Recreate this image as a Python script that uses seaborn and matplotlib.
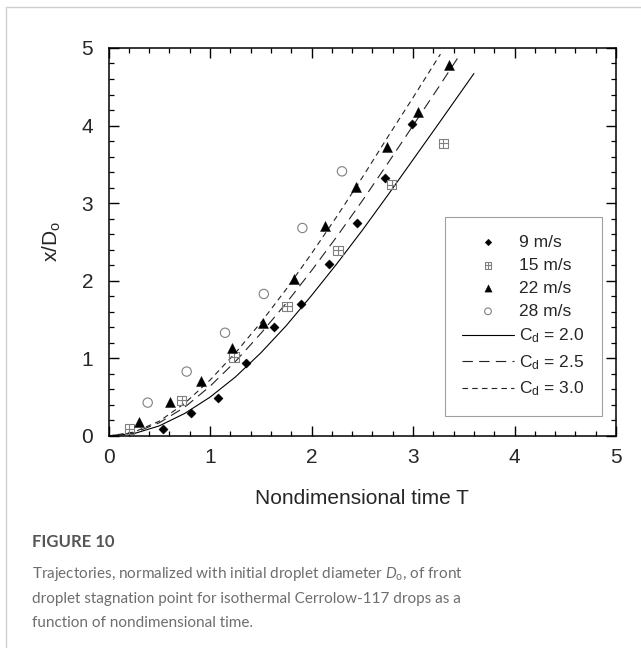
import matplotlib
matplotlib.use('Agg')
import matplotlib.pyplot as plt
import seaborn as sns
from matplotlib.path import Path
from matplotlib.ticker import MultipleLocator

# Measured front stagnation point x/Do vs nondimensional time T
t_9 = [0.54, 0.81, 1.08, 1.355, 1.63, 1.90, 2.17, 2.445, 2.72, 2.99]
x_9 = [0.09, 0.29, 0.49, 0.94, 1.40, 1.70, 2.21, 2.75, 3.32, 4.02]

t_15 = [0.205, 0.72, 1.236, 1.76, 2.26, 2.79, 3.30]
x_15 = [0.09, 0.46, 1.02, 1.67, 2.39, 3.24, 3.77]

t_22 = [0.30, 0.606, 0.91, 1.22, 1.52, 1.83, 2.13, 2.435, 2.74, 3.05, 3.35]
x_22 = [0.18, 0.44, 0.71, 1.14, 1.46, 2.02, 2.70, 3.21, 3.73, 4.18, 4.78]

t_28 = [0.386, 0.77, 1.148, 1.53, 1.91, 2.30]
x_28 = [0.43, 0.83, 1.33, 1.83, 2.68, 3.41]

# Model trajectories for three drag coefficients
t_cd20 = [0, 0.25, 0.5, 0.75, 1.0, 1.25, 1.5, 1.75, 2.0, 2.25, 2.5, 2.75, 3.0, 3.25, 3.6]
x_cd20 = [0, 0.03, 0.13, 0.29, 0.50, 0.76, 1.07, 1.42, 1.81, 2.22, 2.65, 3.10, 3.56, 4.02, 4.67]

t_cd25 = [0, 0.25, 0.5, 0.75, 1.0, 1.25, 1.5, 1.75, 2.0, 2.25, 2.5, 2.75, 3.0, 3.25, 3.46]
x_cd25 = [0, 0.04, 0.17, 0.37, 0.64, 0.96, 1.32, 1.71, 2.13, 2.57, 3.03, 3.51, 4.00, 4.49, 4.91]

t_cd30 = [0, 0.25, 0.5, 0.75, 1.0, 1.25, 1.5, 1.75, 2.0, 2.25, 2.5, 2.75, 3.0, 3.27]
x_cd30 = [0, 0.05, 0.19, 0.42, 0.72, 1.07, 1.46, 1.89, 2.35, 2.83, 3.33, 3.85, 4.36, 4.92]

sns.set_style('ticks')
plt.rcParams['font.family'] = ['Liberation Sans', 'DejaVu Sans']
plt.rcParams['mathtext.fontset'] = 'custom'
plt.rcParams['mathtext.rm'] = 'Liberation Sans'
plt.rcParams['mathtext.it'] = 'Lato:italic'
plt.rcParams['lines.scale_dashes'] = False

# square with a cross inside
boxplus = Path([(-1, -1), (1, -1), (1, 1), (-1, 1), (-1, -1),
                (0, -1), (0, 1), (-1, 0), (1, 0)],
               [Path.MOVETO, Path.LINETO, Path.LINETO, Path.LINETO, Path.CLOSEPOLY,
                Path.MOVETO, Path.LINETO, Path.MOVETO, Path.LINETO])

fig = plt.figure(figsize=(6.41, 6.48), dpi=100)
ax = fig.add_axes([0.1693, 0.3272, 0.7917, 0.5988])

sns.scatterplot(x=t_9, y=x_9, marker='D', s=22, color='black', edgecolor='black',
                linewidth=0.3, ax=ax, label='9 m/s', zorder=3)
sns.scatterplot(x=t_15, y=x_15, marker=boxplus, s=46, color='#808080', facecolor='none',
                edgecolor='#808080', linewidth=0.8, ax=ax, label='15 m/s', zorder=3)
sns.scatterplot(x=t_22, y=x_22, marker='^', s=52, color='black', edgecolor='black',
                linewidth=0.3, ax=ax, label='22 m/s', zorder=3)
sns.scatterplot(x=t_28, y=x_28, marker='o', s=45, color='#808080', facecolor='none',
                edgecolor='#808080', linewidth=0.8, ax=ax, label='28 m/s', zorder=3)

sns.lineplot(x=t_cd20, y=x_cd20, color='black', lw=0.8, ax=ax, label=r'C$_{\mathrm{d}}$ = 2.0')
sns.lineplot(x=t_cd25, y=x_cd25, color='#222222', lw=0.8, linestyle=(0, (7.5, 4.5)), ax=ax,
             label=r'C$_{\mathrm{d}}$ = 2.5')
sns.lineplot(x=t_cd30, y=x_cd30, color='#222222', lw=0.8, linestyle=(0, (4, 3)), ax=ax,
             label=r'C$_{\mathrm{d}}$ = 3.0')

ax.set_xlim(0, 5)
ax.set_ylim(0, 5)
ax.xaxis.set_major_locator(MultipleLocator(1))
ax.yaxis.set_major_locator(MultipleLocator(1))
ax.xaxis.set_minor_locator(MultipleLocator(0.2))
ax.yaxis.set_minor_locator(MultipleLocator(0.2))
ax.tick_params(which='both', direction='in', top=True, right=True, color='black')
ax.tick_params(which='major', length=7, width=1.0, labelsize=15)
ax.tick_params(axis='x', which='major', pad=8.5)
ax.tick_params(axis='y', which='major', pad=11)
ax.tick_params(which='minor', length=3.6, width=0.9)
for sp in ax.spines.values():
    sp.set_visible(True)
    sp.set_linewidth(1.1)
    sp.set_color('black')

ax.set_xlabel('Nondimensional time T', fontsize=15)
ax.set_ylabel(r'x/D$_{\mathrm{o}}$', fontsize=15)
ax.xaxis.set_label_coords(0.5, -0.137)
ax.yaxis.set_label_coords(-0.09, 0.5)

handles, labels = ax.get_legend_handles_labels()
leg = ax.legend(handles, labels, loc='lower right', bbox_to_anchor=(0.972, 0.052),
                borderaxespad=0, fontsize=12.5, frameon=True, fancybox=False,
                framealpha=1, edgecolor='#a0a0a0', borderpad=1.0, handlelength=3.0,
                handletextpad=0.3, labelspacing=0.45, markerscale=0.72)
leg.get_frame().set_linewidth(0.8)

# card border and caption
fig.add_artist(plt.Line2D([6 / 641, 6 / 641], [0, 1 - 7 / 648], color='#d0d0d0', lw=1))
fig.add_artist(plt.Line2D([6 / 641, 1], [1 - 7 / 648, 1 - 7 / 648], color='#d0d0d0', lw=1))

fig.text(32 / 641, 1 - 542 / 648, 'FIGURE 10', family='Lato', fontweight='bold',
         fontsize=12, color='#555555', va='center')
caption = [r'Trajectories, normalized with initial droplet diameter $D_{\mathrm{o}}$, of front',
           'droplet stagnation point for isothermal Cerrolow-117 drops as a',
           'function of nondimensional time.']
for i, line in enumerate(caption):
    fig.text(32 / 641, 1 - (574 + 24.5 * i) / 648, line, family='Lato', fontsize=11,
             color='#6e6e6e', va='center')

fig.savefig('out.png', dpi=100)
